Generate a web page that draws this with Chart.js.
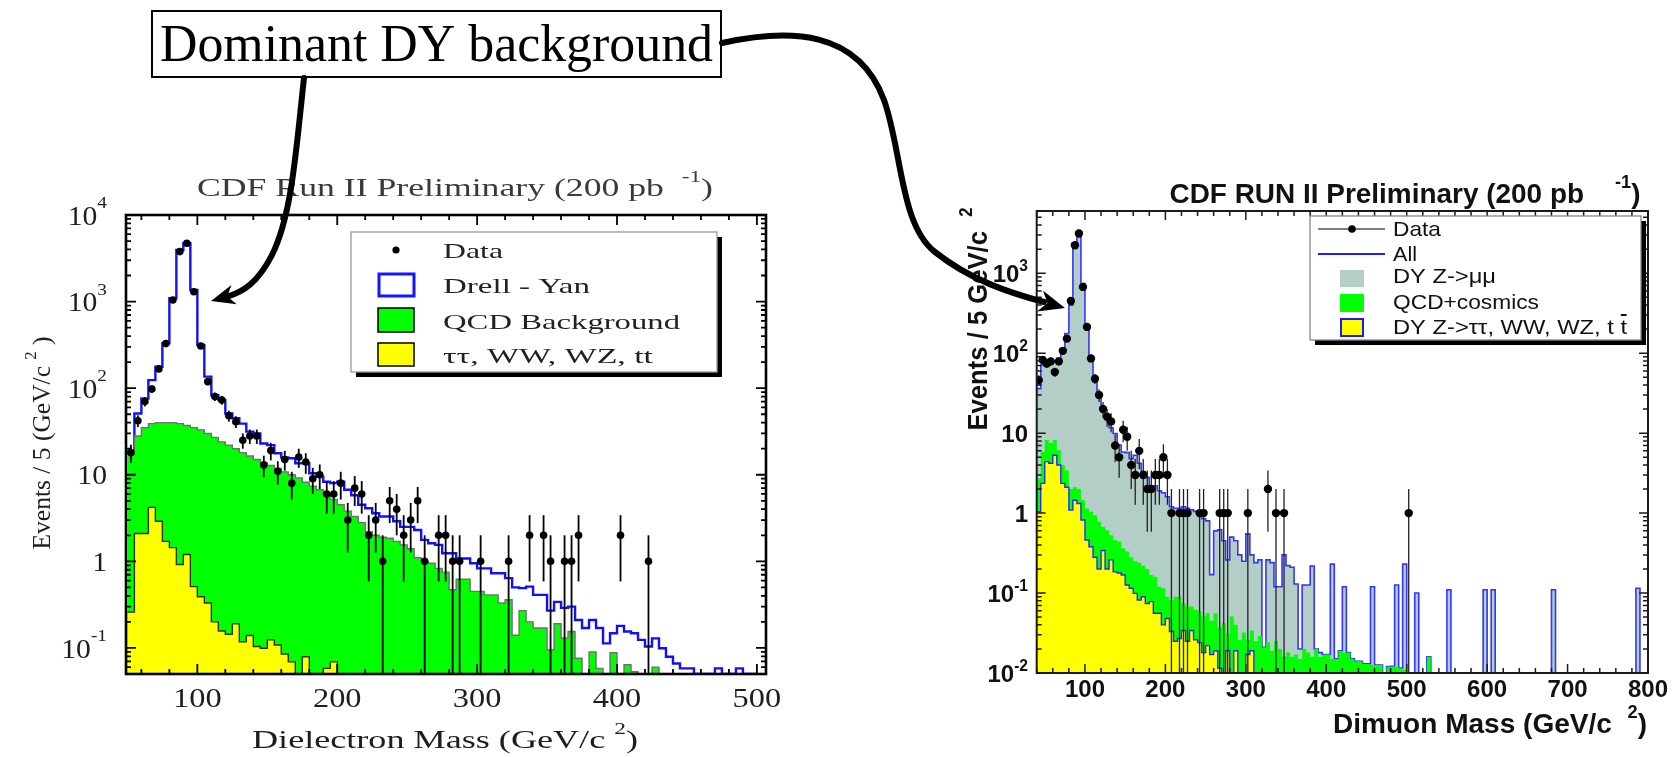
<!DOCTYPE html>
<html>
<head>
<meta charset="utf-8">
<script src="https://cdn.jsdelivr.net/npm/chart.js@4"></script>
<style>
  html, body { margin: 0; padding: 0; background: #fff; }
  body { width: 1675px; height: 757px; position: relative; overflow: hidden; }
  .pane { position: absolute; }
  #eePane { left: 0; top: 150px; width: 800px; height: 607px; }
  #mmPane { left: 900px; top: 150px; width: 775px; height: 607px; }
  #notes { position: absolute; left: 0; top: 0; pointer-events: none; }
</style>
</head>
<body>
<div class="pane" id="eePane"><canvas id="eeChart"></canvas></div>
<div class="pane" id="mmPane"><canvas id="mmChart"></canvas></div>
<canvas id="notes" width="1675" height="757"></canvas>
<script>
// ---------- dielectron histogram (left), 5 GeV bins from 50 ----------
const eeLow = 50, eeWidth = 5;
const eeData = [
  18, 42, 70, 98, 167, 327, 1043, 3780, 4710, 1300,
  307, 119, 80, 73, 48, 41, 25, 28, 28, 13,
  19, 11, 15, 8, 16, 14, 9, 10, 6, 6,
  8, 3, 7, 6, 2, 3, 1, 5, 4, 2,
  3, 5, 1, 0, 2, 2, 1, 1, 0, 0,
  1, 0, 0, 0, 1, 0, 0, 2, 0, 2,
  1, 0, 1, 1, 2, 0, 0, 0, 0, 0,
  2, 0, 0, 0, 1, 0, 0, 0, 0, 0,
  0, 0, 0, 0, 0, 0, 0, 0, 0, 0];
const eeDY = [
  18.7, 51, 76, 124, 177, 330, 1092, 3944, 4710, 1360,
  315, 136, 83, 73, 51, 45, 39, 31.5, 30, 23,
  22, 17.7, 15.8, 15.5, 13.6, 13.6, 10.4, 9.5, 8.3, 8.0,
  8.3, 6.7, 5.8, 4.5, 4.1, 3.6, 3.3, 3.3, 2.9, 2.5,
  2.5, 2.3, 1.77, 1.62, 1.55, 1.24, 1.24, 1.08, 1.08, 0.95,
  0.83, 0.83, 0.73, 0.73, 0.64, 0.5, 0.49, 0.51, 0.41, 0.41,
  0.27, 0.34, 0.29, 0.3, 0.21, 0.17, 0.21, 0.17, 0.113, 0.148,
  0.18, 0.155, 0.148, 0.124, 0.104, 0.129, 0.099, 0.079, 0.066, 0.058,
  0.058, 0.05, 0.05, 0.05, 0.058, 0.05, 0.05, 0.058, 0.05, 0.05];
const eeQCD = [
  18.7, 28, 35, 39, 40, 40, 40, 39, 37, 35,
  33, 30, 27, 24, 22, 20, 18, 16.5, 15, 13.7,
  12.8, 11.8, 10.8, 10, 9.2, 8.2, 7.4, 6.7, 5.9, 5.2,
  4.5, 3.8, 3.3, 2.8, 2.2, 2.0, 1.9, 1.85, 1.7, 1.55,
  1.4, 1.1, 1.0, 0.95, 0.83, 0.75, 0.47, 0.62, 0.62, 0.45,
  0.45, 0.41, 0.41, 0.33, 0.36, 0.14, 0.27, 0.2, 0.17, 0.17,
  0.095, 0.19, 0.13, 0.155, 0.076, 0, 0.09, 0.058, 0, 0.088,
  0, 0.064, 0.053, 0, 0, 0.06, 0, 0, 0, 0,
  0, 0, 0, 0, 0, 0, 0, 0, 0, 0];
const eeEWK = [
  0.26, 2.1, 2.1, 4.2, 2.9, 1.7, 1.44, 0.92, 1.2, 0.51,
  0.39, 0.33, 0.2, 0.157, 0.144, 0.19, 0.118, 0.139, 0.104, 0.099,
  0.124, 0.108, 0.085, 0.069, 0, 0.079, 0, 0, 0.058, 0.069,
  0, 0, 0, 0, 0, 0, 0, 0, 0, 0,
  0, 0, 0, 0, 0, 0, 0, 0, 0, 0,
  0, 0, 0, 0, 0, 0, 0, 0, 0, 0,
  0, 0, 0, 0, 0, 0, 0, 0, 0, 0,
  0, 0, 0, 0, 0, 0, 0, 0, 0, 0,
  0, 0, 0, 0, 0, 0, 0, 0, 0, 0];
const eeXTicks = [100, 200, 300, 400, 500];
const eeYTicks = [0.1, 1, 10, 100, 1000, 10000];
const eeLegend = ['Data', 'Drell - Yan', 'QCD Background', 'ττ, WW, WZ, tt'];
const eeTitle = 'CDF Run II Preliminary (200 pb  ';
const eeXTitle = 'Dielectron Mass (GeV/c ';
const eeYTitle = 'Events / 5 (GeV/c ';

// ---------- dimuon histogram (right), 5 GeV bins from 40 ----------
const mmLow = 40, mmWidth = 5;
const mmData = [
  46, 82, 74, 79, 58, 79, 107, 152, 450, 2240,
  3135, 674, 213, 86, 48, 30, 20, 16, 14, 7,
  5, 11, 9, 4, 3, 6, 3, 2, 2, 3,
  3, 5, 3, 1, 0, 1, 1, 1, 0, 0,
  1, 1, 0, 0, 0, 1, 1, 1, 0, 0,
  0, 0, 1, 0, 0, 0, 0, 2, 0, 1,
  0, 1, 0, 0, 0, 0, 0, 0, 0, 0,
  0, 0, 0, 0, 0, 0, 0, 0, 0, 0,
  0, 0, 0, 0, 0, 0, 0, 0, 0, 0,
  0, 0, 1, 0, 0, 0, 0, 0, 0, 0,
  0, 0, 0, 0, 0, 0, 0, 0, 0, 0,
  0, 0, 0, 0, 0, 0, 0, 0, 0, 0,
  0, 0, 0, 0, 0, 0, 0, 0, 0, 0,
  0, 0, 0, 0, 0, 0, 0, 0, 0, 0,
  0, 0, 0, 0, 0, 0, 0, 0, 0, 0,
  0, 0];
const mmAll = [
  36, 71, 78, 79, 78, 86, 104, 176, 398, 2074,
  3043, 743, 224, 90, 44, 30, 20, 15, 11.7, 9.9,
  7.1, 5.8, 5.7, 4.8, 5.3, 4.2, 3.3, 2.8, 2.1, 2.2,
  1.9, 1.8, 1.6, 1.2, 1.15, 1.15, 1.2, 1.15, 1.1, 1.05,
  1.0, 0.85, 0.8, 0.17, 0.6, 0.62, 0.45, 0.26, 0.5, 0.45,
  0.3, 0.25, 0.55, 0.3, 0.24, 0.26, 0.021, 0.26, 0.24, 0.12,
  0.12, 0.3, 0.22, 0.21, 0.13, 0.02, 0.126, 0.126, 0.217, 0.02,
  0.018, 0.017, 0.017, 0.23, 0.015, 0.019, 0.12, 0.018, 0.015, 0.014,
  0.014, 0.013, 0.013, 0.12, 0.0126, 0.0126, 0, 0.012, 0.0121, 0.126,
  0.0115, 0.23, 0, 0, 0.1, 0, 0, 0.016, 0, 0,
  0, 0, 0.11, 0, 0, 0, 0, 0, 0, 0,
  0, 0.11, 0, 0.11, 0, 0, 0, 0, 0, 0,
  0, 0, 0, 0, 0, 0, 0, 0, 0.11, 0,
  0, 0, 0, 0, 0, 0, 0, 0, 0, 0,
  0, 0, 0, 0, 0, 0, 0, 0, 0, 0.115,
  0, 0];
const mmQCD = [
  2.7, 5.8, 8.2, 7.5, 8.2, 6.1, 4.0, 3.4, 2.0, 2.1,
  2.0, 1.45, 1.14, 1.04, 0.94, 0.78, 0.67, 0.61, 0.53, 0.46,
  0.44, 0.36, 0.33, 0.28, 0.25, 0.24, 0.22, 0.2, 0.168, 0.16,
  0.12, 0.115, 0.09, 0.082, 0.09, 0.09, 0.074, 0.068, 0.068, 0.062,
  0.059, 0.051, 0.056, 0.045, 0.056, 0.037, 0.042, 0.031, 0.051, 0.04,
  0.026, 0.032, 0.026, 0.034, 0.025, 0.029, 0.021, 0.024, 0.019, 0.025,
  0.02, 0.016, 0.018, 0.016, 0.017, 0.015, 0.02, 0.018, 0.016, 0.02,
  0.016, 0.017, 0.017, 0.015, 0.015, 0.019, 0.018, 0.018, 0.015, 0.014,
  0.014, 0.013, 0.013, 0.0126, 0.0126, 0.0126, 0, 0.012, 0.0121, 0.012,
  0.0115, 0.011, 0, 0, 0, 0, 0, 0.016, 0, 0,
  0, 0, 0, 0, 0, 0, 0, 0, 0, 0,
  0, 0, 0, 0, 0, 0, 0, 0, 0, 0,
  0, 0, 0, 0, 0, 0, 0, 0, 0, 0,
  0, 0, 0, 0, 0, 0, 0, 0, 0, 0,
  0, 0, 0, 0, 0, 0, 0, 0, 0, 0,
  0, 0];
const mmEWK = [
  1.04, 2.35, 4.4, 4.2, 5.3, 4.0, 2.35, 2.1, 1.09, 1.45,
  1.32, 0.82, 0.46, 0.38, 0.28, 0.2, 0.34, 0.2, 0.26, 0.185,
  0.178, 0.168, 0.126, 0.115, 0.099, 0.082, 0.09, 0.074, 0.078, 0.056,
  0.056, 0.04, 0.048, 0.033, 0.025, 0.027, 0.034, 0.025, 0.034, 0.026,
  0.024, 0.018, 0.022, 0.017, 0.019, 0.0115, 0, 0.019, 0, 0.019,
  0, 0, 0.017, 0.019, 0, 0, 0, 0, 0, 0,
  0, 0, 0, 0, 0, 0, 0, 0, 0, 0,
  0, 0, 0, 0, 0, 0, 0, 0, 0, 0,
  0, 0, 0, 0, 0, 0, 0, 0, 0, 0,
  0, 0, 0, 0, 0, 0, 0, 0, 0, 0,
  0, 0, 0, 0, 0, 0, 0, 0, 0, 0,
  0, 0, 0, 0, 0, 0, 0, 0, 0, 0,
  0, 0, 0, 0, 0, 0, 0, 0, 0, 0,
  0, 0, 0, 0, 0, 0, 0, 0, 0, 0,
  0, 0, 0, 0, 0, 0, 0, 0, 0, 0,
  0, 0];
const mmXTicks = [100, 200, 300, 400, 500, 600, 700, 800];
const mmYTicks = [0.01, 0.1, 1, 10, 100, 1000];
const mmLegend = ['Data', 'All', 'DY Z->μμ', 'QCD+cosmics', 'DY Z->ττ, WW, WZ, t t'];
const mmTitle = 'CDF RUN II Preliminary (200 pb    ';
const mmXTitle = 'Dimuon Mass (GeV/c  ';
const mmYTitle = 'Events / 5 GeV/c  ';

const noteText = 'Dominant DY background';

const SERIF = "'Liberation Serif', 'Times New Roman', serif";
const SANS = "'Liberation Sans', Arial, sans-serif";

// histogram outline: one point per lower bin edge, plus the closing edge
function steps(lo, w, vals) {
  const pts = vals.map((v, i) => ({x: lo + i * w, y: v > 0 ? v : 1e-6}));
  pts.push({x: lo + vals.length * w, y: pts[pts.length - 1].y});
  return pts;
}
function centres(lo, w, vals) {
  const pts = [];
  vals.forEach((v, i) => { if (v > 0) pts.push({x: lo + (i + 0.5) * w, y: v}); });
  return pts;
}

// text with superscripts, optional stretch to a given width
function drawRun(ctx, segs, x, y, o) {
  const wt = o.weight || 'normal';
  const parts = segs.map(s => {
    const size = s.sup ? o.size * 0.65 : o.size;
    ctx.font = `${wt} ${size}px ${o.family}`;
    return {s, size, w: ctx.measureText(s.t).width};
  });
  const total = parts.reduce((a, p) => a + p.w, 0);
  const k = o.width ? o.width / total : (o.sx || 1);
  ctx.save();
  ctx.translate(x, y);
  if (o.rotate) ctx.rotate(o.rotate);
  ctx.scale(k, 1);
  ctx.fillStyle = o.color || '#000';
  ctx.textAlign = 'left';
  ctx.textBaseline = 'alphabetic';
  let cx = o.align === 'center' ? -total / 2 : o.align === 'right' ? -total : 0;
  parts.forEach(p => {
    ctx.font = `${wt} ${p.size}px ${o.family}`;
    ctx.fillText(p.s.t, cx, p.s.sup ? -o.size * (o.raise || 0.5) : 0);
    if (p.s.bar) ctx.fillRect(cx + p.w * 0.05, -o.size * 0.95, p.w * 0.9, 2);
    cx += p.w;
  });
  ctx.restore();
}

function expLabel(v) {
  const k = Math.round(Math.log10(v));
  if (k === 0) return [{t: '1'}];
  if (k === 1) return [{t: '10'}];
  return [{t: '10'}, {t: String(k), sup: true}];
}

function makeDecor(st) {
  return {
    id: 'decor',
    beforeDatasetDraw(chart, args) {
      if (args.index !== 0) return;
      const {ctx, chartArea: a, scales: {x, y}} = chart;
      ctx.save();
      ctx.beginPath();
      ctx.rect(a.left, a.top, a.right - a.left, a.bottom - a.top);
      ctx.clip();
      ctx.strokeStyle = st.errColor;
      ctx.lineWidth = st.errWidth;
      chart.data.datasets[0].data.forEach(p => {
        const s = Math.sqrt(p.y);
        const px = x.getPixelForValue(p.x);
        const top = y.getPixelForValue(p.y + s);
        const bot = p.y - s > 0 ? y.getPixelForValue(p.y - s) : a.bottom;
        ctx.beginPath();
        ctx.moveTo(px, top);
        ctx.lineTo(px, bot);
        ctx.stroke();
      });
      ctx.restore();
    },
    afterDatasetsDraw(chart) {
      const {ctx, chartArea: a, scales: {x, y}} = chart;
      ctx.save();
      ctx.strokeStyle = st.frameColor;
      ctx.lineWidth = st.tickWidth;
      ctx.beginPath();
      for (let v = Math.ceil(x.min / st.xMinor) * st.xMinor; v <= x.max; v += st.xMinor) {
        const px = x.getPixelForValue(v);
        const len = st.xTicks.includes(v) ? st.major : st.minor;
        ctx.moveTo(px, a.bottom); ctx.lineTo(px, a.bottom - len);
        ctx.moveTo(px, a.top); ctx.lineTo(px, a.top + len);
      }
      const e0 = Math.floor(Math.log10(y.min)), e1 = Math.ceil(Math.log10(y.max));
      for (let e = e0; e <= e1; e++) {
        for (let m = 1; m < 10; m++) {
          const v = m * Math.pow(10, e);
          if (v < y.min * 0.999 || v > y.max * 1.001) continue;
          const py = y.getPixelForValue(v);
          const len = m === 1 ? st.major : st.minor;
          ctx.moveTo(a.left, py); ctx.lineTo(a.left + len, py);
          ctx.moveTo(a.right, py); ctx.lineTo(a.right - len, py);
        }
      }
      ctx.stroke();
      ctx.lineWidth = st.frameWidth;
      ctx.strokeRect(a.left, a.top, a.right - a.left, a.bottom - a.top);
      ctx.restore();
    },
    afterDraw(chart) {
      const {ctx, scales: {x, y}} = chart;
      const [ox, oy] = st.off;
      const f = {family: st.family, weight: st.weight, color: st.color};
      ctx.save();
      ctx.translate(-ox, -oy);
      st.xTicks.forEach(v => drawRun(ctx, [{t: String(v)}], x.getPixelForValue(v) + ox, st.xLab.base,
        {...f, size: st.xLab.size, sx: st.xLab.sx, align: 'center'}));
      st.yTicks.forEach(v => drawRun(ctx, expLabel(v), st.yLab.right, y.getPixelForValue(v) + oy + st.yLab.size * 0.36,
        {...f, size: st.yLab.size, sx: st.yLab.sx, align: 'right', raise: st.yLab.raise}));
      st.texts.forEach(t => drawRun(ctx, t.segs, t.x, t.y,
        {...f, color: t.color || st.color, size: t.size, width: t.width, align: 'center', rotate: t.rotate, raise: t.raise}));
      const L = st.legend;
      ctx.fillStyle = '#000';
      ctx.fillRect(L.x + L.shadow, L.y + L.shadow, L.w, L.h);
      ctx.fillStyle = '#fff';
      ctx.fillRect(L.x, L.y, L.w, L.h);
      ctx.strokeStyle = L.border;
      ctx.lineWidth = 1.3;
      ctx.strokeRect(L.x, L.y, L.w, L.h);
      L.items.forEach(it => {
        if (it.kind === 'box') {
          ctx.fillStyle = it.fill;
          ctx.fillRect(it.x, it.y, it.w, it.h);
          if (it.stroke) {
            ctx.strokeStyle = it.stroke;
            ctx.lineWidth = it.lw;
            ctx.strokeRect(it.x, it.y, it.w, it.h);
          }
        }
        if (it.kind === 'line' || it.kind === 'linedot') {
          ctx.strokeStyle = it.color;
          ctx.lineWidth = it.lw;
          ctx.beginPath();
          ctx.moveTo(it.x1, it.y); ctx.lineTo(it.x2, it.y);
          ctx.stroke();
        }
        if (it.kind === 'dot' || it.kind === 'linedot') {
          ctx.fillStyle = '#000';
          ctx.beginPath();
          ctx.arc(it.cx, it.y, it.r, 0, Math.PI * 2);
          ctx.fill();
        }
        const segs = it.bar ? [{t: it.text.slice(0, -1)}, {t: it.text.slice(-1), bar: true}] : [{t: it.text}];
        drawRun(ctx, segs, L.tx, it.base, {family: st.family, weight: 'normal', color: L.color, size: L.size, width: it.tw});
      });
      ctx.restore();
    }
  };
}

function histChart(id, xr, yr, pad, datasets, st) {
  return new Chart(document.getElementById(id), {
    type: 'line',
    data: {datasets},
    options: {
      responsive: true,
      maintainAspectRatio: false,
      animation: false,
      devicePixelRatio: 1,
      layout: {padding: pad},
      plugins: {legend: {display: false}, tooltip: {enabled: false}, title: {display: false}},
      scales: {
        x: {type: 'linear', min: xr[0], max: xr[1], display: false},
        y: {type: 'logarithmic', min: yr[0], max: yr[1], display: false}
      },
      elements: {line: {tension: 0}, point: {radius: 0, hoverRadius: 0}}
    },
    plugins: [makeDecor(st)]
  });
}

// ---------- left chart ----------
histChart('eeChart', [49, 506.5], [0.05, 10000], {left: 126, top: 65, right: 34, bottom: 83}, [
  {label: eeLegend[0], data: centres(eeLow, eeWidth, eeData), showLine: false,
   pointRadius: 3.8, pointBackgroundColor: '#000', pointBorderWidth: 0},
  {label: eeLegend[3], data: steps(eeLow, eeWidth, eeEWK), stepped: true, fill: 'start',
   backgroundColor: '#ffff00', borderColor: '#333', borderWidth: 1.4},
  {label: eeLegend[2], data: steps(eeLow, eeWidth, eeQCD), stepped: true, fill: 'start',
   backgroundColor: '#00ff00', borderColor: '#707070', borderWidth: 1.4},
  {label: eeLegend[1], data: steps(eeLow, eeWidth, eeDY), stepped: true, fill: false,
   borderColor: '#1010ff', borderWidth: 2.4}
], {
  off: [0, 150], family: SERIF, weight: 'normal', color: '#1e1e1e',
  frameColor: '#000', frameWidth: 2.6, tickWidth: 1.8, major: 10, minor: 5,
  xMinor: 20, xTicks: eeXTicks, yTicks: eeYTicks,
  errColor: '#000', errWidth: 1.8,
  xLab: {size: 27, sx: 1.2, base: 707},
  yLab: {size: 27, sx: 1.1, right: 107, raise: 0.62},
  texts: [
    {segs: [{t: eeTitle}, {t: '-1', sup: true}, {t: ')'}], x: 455, y: 196, width: 516, size: 25, color: '#3a3a3a', raise: 0.55},
    {segs: [{t: eeXTitle}, {t: '2', sup: true}, {t: ')'}], x: 445, y: 748, width: 386, size: 25, raise: 0.55},
    {segs: [{t: eeYTitle}, {t: '2', sup: true}, {t: ' )'}], x: 50, y: 443, width: 213, size: 25, rotate: -Math.PI / 2, raise: 0.55}
  ],
  legend: {
    x: 351, y: 232, w: 366, h: 140, shadow: 5, border: '#999', tx: 443, size: 22, color: '#222',
    items: [
      {kind: 'dot', cx: 396, y: 250, r: 3.6, text: eeLegend[0], base: 258, tw: 60},
      {kind: 'box', fill: '#fff', stroke: '#1515ff', lw: 3, x: 379, y: 274, w: 35, h: 22, text: eeLegend[1], base: 293, tw: 147},
      {kind: 'box', fill: '#00ff00', stroke: '#000', lw: 1.5, x: 378, y: 308, w: 36, h: 24, text: eeLegend[2], base: 329, tw: 237},
      {kind: 'box', fill: '#ffff00', stroke: '#000', lw: 1.5, x: 378, y: 343, w: 36, h: 23, text: eeLegend[3], base: 363, tw: 210}
    ]
  }
});

// ---------- right chart ----------
histChart('mmChart', [40, 800], [0.01, 6000], {left: 136.7, top: 61, right: 27, bottom: 84}, [
  {label: mmLegend[0], data: centres(mmLow, mmWidth, mmData), showLine: false,
   pointRadius: 4.2, pointBackgroundColor: '#000', pointBorderWidth: 0},
  {label: mmLegend[4], data: steps(mmLow, mmWidth, mmEWK), stepped: true, fill: 'start',
   backgroundColor: '#ffff00', borderColor: '#2a2aff', borderWidth: 1.4},
  {label: mmLegend[3], data: steps(mmLow, mmWidth, mmQCD), stepped: true, fill: 'start',
   backgroundColor: '#00ff00', borderColor: '#00ff00', borderWidth: 0},
  {label: mmLegend[1], data: steps(mmLow, mmWidth, mmAll), stepped: true, fill: 'start',
   backgroundColor: '#b3cec6', borderColor: '#3535ff', borderWidth: 1.6}
], {
  off: [900, 150], family: SANS, weight: 'bold', color: '#111',
  frameColor: '#1a1a1a', frameWidth: 2, tickWidth: 1.5, major: 9, minor: 5,
  xMinor: 20, xTicks: mmXTicks, yTicks: mmYTicks,
  errColor: '#222', errWidth: 1.3,
  xLab: {size: 24, sx: 1, base: 697},
  yLab: {size: 24, sx: 1, right: 1028, raise: 0.45},
  texts: [
    {segs: [{t: mmTitle}, {t: '-1', sup: true}, {t: ')'}], x: 1405, y: 203, width: 471, size: 28, raise: 0.55},
    {segs: [{t: mmXTitle}, {t: '2', sup: true}, {t: ')'}], x: 1490, y: 733, width: 314, size: 27, raise: 0.55},
    {segs: [{t: mmYTitle}, {t: '2', sup: true}], x: 987, y: 319, width: 223, size: 27, rotate: -Math.PI / 2, raise: 0.55}
  ],
  legend: {
    x: 1310, y: 216, w: 331, h: 124, shadow: 5, border: '#888', tx: 1393, size: 21, color: '#111',
    items: [
      {kind: 'linedot', x1: 1318, x2: 1385, cx: 1352, y: 229, r: 3.8, lw: 1, color: '#000', text: mmLegend[0], base: 236, tw: 48},
      {kind: 'line', x1: 1318, x2: 1385, y: 254, lw: 1.8, color: '#2020ff', text: mmLegend[1], base: 261, tw: 24},
      {kind: 'box', fill: '#b3cec6', x: 1340, y: 270, w: 24, h: 17, text: mmLegend[2], base: 283, tw: 103},
      {kind: 'box', fill: '#00ff00', x: 1340, y: 294, w: 24, h: 18, text: mmLegend[3], base: 309, tw: 146},
      {kind: 'box', fill: '#ffff00', stroke: '#1a1aff', lw: 2, x: 1341, y: 319, w: 22, h: 17, text: mmLegend[4], base: 334, tw: 234, bar: true}
    ]
  }
});

// ---------- annotation box and arrows ----------
const nc = document.getElementById('notes').getContext('2d');
nc.fillStyle = '#fff';
nc.fillRect(152, 11, 569, 66);
nc.strokeStyle = '#000';
nc.lineWidth = 2;
nc.strokeRect(152, 11, 569, 66);
drawRun(nc, [{t: noteText}], 436.5, 61, {family: SERIF, size: 52, width: 553, align: 'center', color: '#000'});

function arrowHead(ctx, fx, fy, tx, ty, len, wid) {
  const d = Math.hypot(tx - fx, ty - fy), ux = (tx - fx) / d, uy = (ty - fy) / d;
  const bx = tx - ux * len, by = ty - uy * len;
  ctx.beginPath();
  ctx.moveTo(tx, ty);
  ctx.lineTo(bx - uy * wid / 2, by + ux * wid / 2);
  ctx.lineTo(tx - ux * len * 0.7, ty - uy * len * 0.7);
  ctx.lineTo(bx + uy * wid / 2, by - ux * wid / 2);
  ctx.closePath();
  ctx.fill();
}
nc.lineWidth = 6;
nc.lineCap = 'round';
nc.fillStyle = '#000';
nc.beginPath();
nc.moveTo(304, 78);
nc.bezierCurveTo(296, 150, 292, 215, 272, 255);
nc.bezierCurveTo(258, 282, 244, 292, 226, 297);
nc.stroke();
arrowHead(nc, 236, 294, 211, 301, 24, 20);

nc.beginPath();
nc.moveTo(722, 43);
nc.bezierCurveTo(790, 28, 858, 30, 884, 100);
nc.bezierCurveTo(902, 150, 900, 225, 935, 252);
nc.bezierCurveTo(970, 280, 1010, 293, 1044, 302);
nc.stroke();
arrowHead(nc, 1040, 301, 1065, 308, 26, 22);
</script>
</body>
</html>
